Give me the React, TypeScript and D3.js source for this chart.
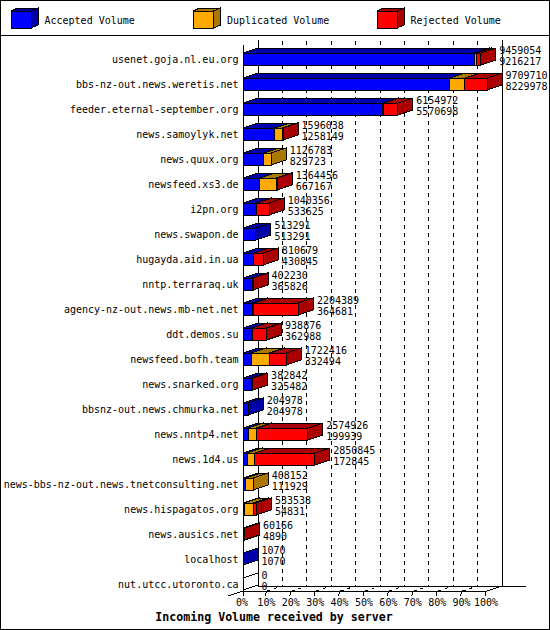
import React, { useEffect, useRef } from "react";
import * as d3 from "d3";

const hosts = [
  "usenet.goja.nl.eu.org", "bbs-nz-out.news.weretis.net", "feeder.eternal-september.org",
  "news.samoylyk.net", "news.quux.org", "newsfeed.xs3.de", "i2pn.org", "news.swapon.de",
  "hugayda.aid.in.ua", "nntp.terraraq.uk", "agency-nz-out.news.mb-net.net", "ddt.demos.su",
  "newsfeed.bofh.team", "news.snarked.org", "bbsnz-out.news.chmurka.net", "news.nntp4.net",
  "news.1d4.us", "news-bbs-nz-out.news.tnetconsulting.net", "news.hispagatos.org",
  "news.ausics.net", "localhost", "nut.utcc.utoronto.ca",
];

const totalVolume = [
  9459054, 9709710, 6154972, 1596038, 1126783, 1364456, 1040356, 513291, 810679, 402230, 2204389,
  938876, 1722416, 382842, 204978, 2574926, 2850845, 408152, 533538, 60166, 1070, 0,
];
const acceptedVolume = [
  9216217, 8229978, 5570698, 1258149, 829723, 667167, 533625, 513291, 430845, 365826, 364681,
  362988, 332494, 325482, 204978, 199939, 172845, 111929, 54831, 4890, 1070, 0,
];
const duplicatedVolume = [
  80000, 597000, 20000, 300000, 297060, 664000, 6000, 0, 0, 0, 70000,
  0, 720000, 0, 0, 340000, 300000, 296223, 358000, 0, 0, 0,
];
const rejectedVolume = [
  162837, 882732, 564274, 37889, 0, 33289, 500731, 0, 379834, 36404, 1769708,
  575888, 669922, 57360, 0, 2034987, 2378000, 0, 120707, 55276, 0, 0,
];
const percentTicks = [0, 10, 20, 30, 40, 50, 60, 70, 80, 90, 100];

const seriesNames = ["Accepted Volume", "Duplicated Volume", "Rejected Volume"];
const seriesFront = ["#0000ff", "#ffaa00", "#ff0000"];
const seriesDark = ["#0000aa", "#aa7700", "#aa0000"];
const legendX = [11, 193.5, 377];
const seriesValues = [acceptedVolume, duplicatedVolume, rejectedVolume];

const FONT = "'DejaVu Sans Mono', monospace";
const DX = 15;
const DY = -5;
const BAR_H = 12;

export default function App() {
  const svgRef = useRef<SVGSVGElement | null>(null);

  useEffect(() => {
    if (!svgRef.current) return;
    const root = d3.select(svgRef.current);
    root.selectAll("*").remove();
    const svg = root.append("g").attr("shape-rendering", "crispEdges");

    const maxTotal = d3.max(totalVolume) as number;
    const x = d3.scaleLinear().domain([0, maxTotal]).range([243, 487]);
    const pct = d3.scaleLinear().domain([0, 100]).range([243, 487]);
    const y = d3.scaleBand<string>().domain(hosts).range([46.5, 596.5]);
    const center = (h: string) => (y(h) as number) + y.bandwidth() / 2;

    const floorY = 591;
    const poly = (pts: number[][], fill: string) =>
      svg.append("polygon")
        .attr("points", pts.map((p) => p.join(",")).join(" "))
        .attr("fill", fill)
        .attr("stroke", "#000")
        .attr("stroke-width", 1);
    const line = (x1: number, y1: number, x2: number, y2: number, dash?: string) =>
      svg.append("line")
        .attr("x1", x1).attr("y1", y1).attr("x2", x2).attr("y2", y2)
        .attr("stroke", "#000")
        .attr("stroke-width", 1)
        .attr("stroke-dasharray", dash ?? null);

    // Frame and legend divider
    svg.append("rect")
      .attr("x", 0.5).attr("y", 0.5).attr("width", 549).attr("height", 629)
      .attr("fill", "#fff").attr("stroke", "#000");
    line(0, 35, 550, 35);

    // Legend
    seriesNames.forEach((name, i) => {
      const lx = legendX[i];
      poly([[lx, 11], [lx + 6, 8], [lx + 27, 8], [lx + 20, 11]], seriesDark[i]);
      poly([[lx + 20, 11], [lx + 27, 8], [lx + 27, 25], [lx + 20, 28]], seriesDark[i]);
      svg.append("rect")
        .attr("x", lx).attr("y", 11).attr("width", 20).attr("height", 17)
        .attr("fill", seriesFront[i]).attr("stroke", "#000");
      svg.append("text")
        .attr("x", lx + 33.5).attr("y", 23.5)
        .attr("font-family", FONT).attr("font-size", 10)
        .text(name);
    });

    // Back wall, floor and grid
    line(243, 45, 243, 596);
    line(258, 40, 258, floorY + DY);
    line(pct(100) + DX, 40, pct(100) + DX, floorY + DY);
    line(243, floorY, pct(100), floorY);
    line(258, floorY + DY, 526, floorY + DY);
    line(pct(100), floorY, pct(100) + DX, floorY + DY);
    line(228, 596, 243, floorY);

    percentTicks.forEach((t) => {
      const fx = pct(t);
      if (t > 0 && t < 100) {
        line(fx + DX, 41, fx + DX, floorY + DY, "4,4");
        line(fx, floorY, fx + DX, floorY + DY, "3,4");
      }
      if (t > 0) line(fx - 1, floorY, fx - 2, 596);
      svg.append("text")
        .attr("x", fx - 1).attr("y", 606)
        .attr("text-anchor", "middle")
        .attr("font-family", FONT).attr("font-size", 10)
        .text(`${t}%`);
    });

    // Bars
    hosts.forEach((h, i) => {
      const top = center(h) - BAR_H / 2;
      const bottom = top + BAR_H;
      let cum = 0;
      seriesValues.forEach((values, s) => {
        const v = values[i];
        if (v <= 0) return;
        const x0 = x(cum);
        const x1 = x(cum + v);
        cum += v;
        poly([[x0, top], [x0 + DX, top + DY], [x1 + DX, top + DY], [x1, top]], seriesDark[s]);
        poly([[x1, top], [x1 + DX, top + DY], [x1 + DX, bottom + DY], [x1, bottom]], seriesDark[s]);
        svg.append("rect")
          .attr("x", x0).attr("y", top)
          .attr("width", x1 - x0).attr("height", BAR_H)
          .attr("fill", seriesFront[s]).attr("stroke", "#000");
      });
      if (totalVolume[i] === 0) {
        // empty row still leaves its outline on the wall
        poly([[243, top], [243 + DX, top + DY], [243 + DX, bottom + DY], [243, bottom]], "none");
      }
      const labelX = x(totalVolume[i]) + DX + 3.5;
      svg.append("text")
        .attr("x", labelX).attr("y", center(h) - 5.5)
        .attr("font-family", FONT).attr("font-size", 10)
        .text(totalVolume[i]);
      svg.append("text")
        .attr("x", labelX).attr("y", center(h) + 5.5)
        .attr("font-family", FONT).attr("font-size", 10)
        .text(acceptedVolume[i]);
      svg.append("text")
        .attr("x", 238.5).attr("y", center(h) + 3.5)
        .attr("text-anchor", "end")
        .attr("font-family", FONT).attr("font-size", 10)
        .text(h);
    });

    svg.append("text")
      .attr("x", 274).attr("y", 621)
      .attr("text-anchor", "middle")
      .attr("font-family", FONT).attr("font-size", 11.6).attr("font-weight", "bold")
      .text("Incoming Volume received by server");
  }, []);

  return (
    <svg
      ref={svgRef}
      width={550}
      height={630}
      style={{ position: "absolute", left: 0, top: 0, display: "block" }}
    />
  );
}
